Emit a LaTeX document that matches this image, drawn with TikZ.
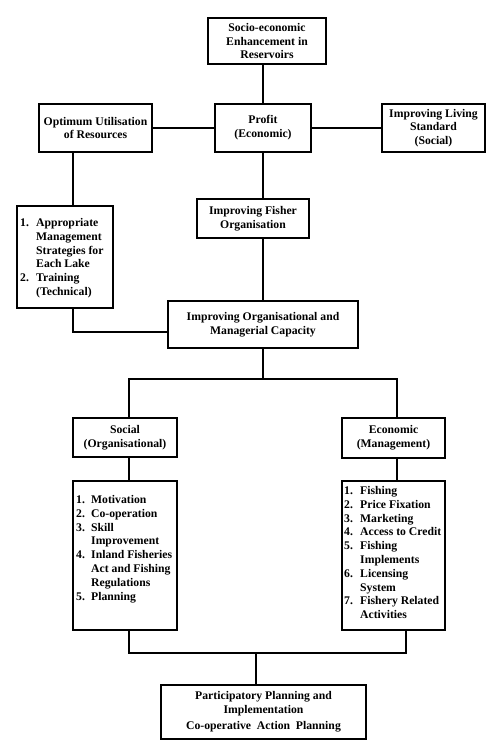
\documentclass[tikz,border=0pt]{standalone}
\usepackage{fontspec}
\setmainfont{Liberation Serif}
\newcommand{\numitem}[3]{\makebox[#1][l]{#2}#3}
\begin{document}
\begin{tikzpicture}[x=1pt,y=-1pt,
  box/.style={draw, line width=1.1pt, inner sep=0pt, align=center, font=\fontsize{11.7}{13.8}\selectfont\bfseries},
  txt/.style={inner sep=0pt, font=\fontsize{11.7}{13.8}\selectfont\bfseries},
  link/.style={line width=1.1pt}]
\useasboundingbox[fill=white] (0,0) rectangle (500,755);
\node[box, minimum width=118pt, minimum height=46pt] (socio) at (267,41) {Socio-economic\\Enhancement in\\Reservoirs};
\node[box, minimum width=113pt, minimum height=48pt] (optimum) at (95.5,128) {Optimum Utilisation\\of Resources};
\node[box, minimum width=96pt, minimum height=48pt] (profit) at (263,128) {Profit\\(Economic)};
\node[box, minimum width=103pt, minimum height=48pt] (living) at (433.5,128) {Improving Living\\Standard\\(Social)};
\node[box, minimum width=96pt, minimum height=102pt] (list1) at (65,257) {};
\node[txt, anchor=base west] (list1t) at (20,226.5) {\begin{tabular}[t]{@{}l@{}}
\numitem{16pt}{1.}{Appropriate}\\
\hspace*{16pt}Management\\
\hspace*{16pt}Strategies for\\
\hspace*{16pt}Each Lake\\
\numitem{16pt}{2.}{Training}\\
\hspace*{16pt}(Technical)
\end{tabular}};
\node[box, minimum width=112pt, minimum height=39pt] (fisher) at (253,218.5) {Improving Fisher\\Organisation};
\node[box, minimum width=190pt, minimum height=47pt] (org) at (263,324.5) {Improving Organisational and\\Managerial Capacity};
\node[box, minimum width=104pt, minimum height=39pt] (social) at (125,437.5) {Social\\(Organisational)};
\node[box, minimum width=103pt, minimum height=40pt] (econ) at (393.5,438) {Economic\\(Management)};
\node[box, minimum width=104pt, minimum height=149pt] (soclist) at (125,555.5) {};
\node[txt, anchor=base west] (soclistt) at (76,503.5) {\begin{tabular}[t]{@{}l@{}}
\numitem{15pt}{1.}{Motivation}\\
\numitem{15pt}{2.}{Co-operation}\\
\numitem{15pt}{3.}{Skill}\\
\hspace*{15pt}Improvement\\
\numitem{15pt}{4.}{Inland Fisheries}\\
\hspace*{15pt}Act and Fishing\\
\hspace*{15pt}Regulations\\
\numitem{15pt}{5.}{Planning}
\end{tabular}};
\node[box, minimum width=103pt, minimum height=149pt] (econlist) at (393.5,555.5) {};
\node[txt, anchor=base west] (econlistt) at (344,494.5) {\begin{tabular}[t]{@{}l@{}}
\numitem{16pt}{1.}{Fishing}\\
\numitem{16pt}{2.}{Price Fixation}\\
\numitem{16pt}{3.}{Marketing}\\
\numitem{16pt}{4.}{Access to Credit}\\
\numitem{16pt}{5.}{Fishing}\\
\hspace*{16pt}Implements\\
\numitem{16pt}{6.}{Licensing}\\
\hspace*{16pt}System\\
\numitem{16pt}{7.}{Fishery Related}\\
\hspace*{16pt}Activities
\end{tabular}};
\node[box, minimum width=205pt, minimum height=54pt] (bottom) at (263.5,712) {Participatory Planning and\\Implementation\\[2pt]Co-operative\ \ Action\ \ Planning};
\draw[link] (profit.north) -- (profit.north |- socio.south);
\draw[link] (optimum.east) -- (profit.west);
\draw[link] (profit.east) -- (living.west);
\draw[link] ([xshift=-22.5pt]optimum.south) -- ([xshift=-22.5pt]optimum.south |- list1.north);
\draw[link] (profit.south) -- (profit.south |- fisher.north);
\draw[link] (org.north |- fisher.south) -- (org.north);
\draw[link] ([xshift=8pt]list1.south) |- ([yshift=-7.5pt]org.west);
\coordinate (split) at (263,379);
\draw[link] (org.south) -- (split);
\draw[link] ([xshift=4pt]social.north) |- (split) -| ([xshift=3.5pt]econ.north);
\draw[link] ([xshift=4pt]social.south) -- ([xshift=4pt]soclist.north);
\draw[link] ([xshift=3.5pt]econ.south) -- ([xshift=3.5pt]econlist.north);
\coordinate (join) at (256,653);
\draw[link] ([xshift=4pt]soclist.south) |- (join) -| ([xshift=12.5pt]econlist.south);
\draw[link] (join) -- (join |- bottom.north);
\end{tikzpicture}
\end{document}
